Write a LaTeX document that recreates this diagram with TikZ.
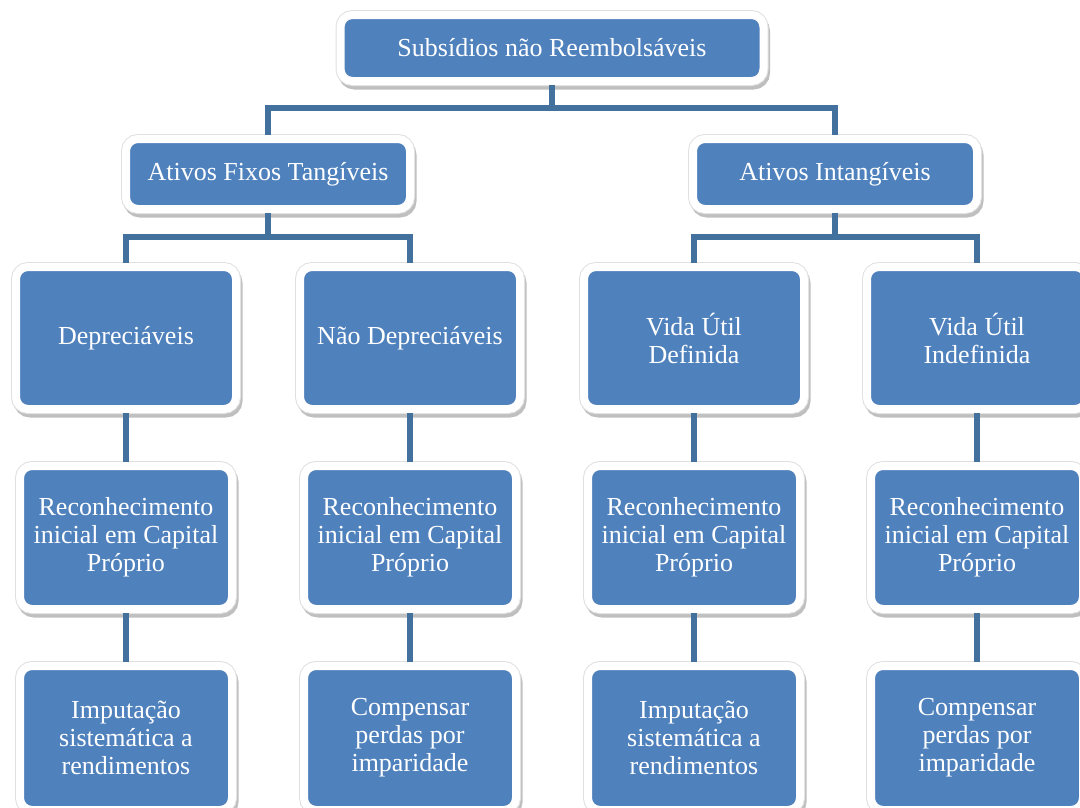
\documentclass[tikz,border=0pt]{standalone}
\usepackage{fontspec}
\setmainfont{Liberation Serif}
\usepackage{tikz}
\usetikzlibrary{positioning, shadows}

\definecolor{boxblue}{RGB}{79,129,189}
\definecolor{linkblue}{RGB}{65,113,156}

\tikzset{
  card/.style={draw=white, line width=8pt, fill=boxblue, rounded corners=12pt,
    text=white, align=center, inner sep=0pt,
    drop shadow={shadow xshift=2pt, shadow yshift=-4pt, opacity=.25, fill=black, draw=black, line width=9pt},
    preaction={draw=black!12, line width=10pt}},
  link/.style={draw=linkblue, line width=6pt}
}

\begin{document}
\begin{tikzpicture}[x=1pt, y=-1pt, node distance=49pt, font=\fontsize{26}{28}\selectfont]
  \useasboundingbox (0,0) rectangle (1080,807);

  % top
  \node (subsidios) [card, minimum width=423pt, minimum height=66pt] at (552,48)
    {Subsídios não Reembolsáveis};

  % second level
  \node (tangiveis) [card, minimum width=284pt, minimum height=70pt] at (268,174)
    {Ativos Fixos Tangíveis};
  \node (intangiveis) [card, minimum width=284pt, minimum height=70pt] at (835,174)
    {Ativos Intangíveis};

  % third level
  \node (depreciaveis) [card, minimum width=220pt, minimum height=142pt] at (126,338)
    {Depreciáveis};
  \node (naodepreciaveis) [card, minimum width=220pt, minimum height=142pt] at (410,338)
    {Não Depreciáveis};
  \node (vidadefinida) [card, minimum width=220pt, minimum height=142pt] at (694,338)
    {Vida Útil\\Definida};
  \node (vidaindefinida) [card, minimum width=220pt, minimum height=142pt] at (977,338)
    {Vida Útil\\Indefinida};

  % fourth level
  \node (reconhec_a) [card, minimum width=212pt, minimum height=143pt, below=of depreciaveis]
    {Reconhecimento\\inicial em Capital\\Próprio};
  \node (reconhec_b) [card, minimum width=212pt, minimum height=143pt, below=of naodepreciaveis]
    {Reconhecimento\\inicial em Capital\\Próprio};
  \node (reconhec_c) [card, minimum width=212pt, minimum height=143pt, below=of vidadefinida]
    {Reconhecimento\\inicial em Capital\\Próprio};
  \node (reconhec_d) [card, minimum width=212pt, minimum height=143pt, below=of vidaindefinida]
    {Reconhecimento\\inicial em Capital\\Próprio};

  % fifth level
  \node (imputacao_a) [card, minimum width=212pt, minimum height=144pt, below=of reconhec_a]
    {Imputação\\sistemática a\\rendimentos};
  \node (compensar_a) [card, minimum width=212pt, minimum height=144pt, below=of reconhec_b]
    {Compensar\\perdas por\\imparidade};
  \node (imputacao_b) [card, minimum width=212pt, minimum height=144pt, below=of reconhec_c]
    {Imputação\\sistemática a\\rendimentos};
  \node (compensar_b) [card, minimum width=212pt, minimum height=144pt, below=of reconhec_d]
    {Compensar\\perdas por\\imparidade};

  \coordinate (bus_top) at (552,108);
  \coordinate (bus_tang) at (268,237);
  \coordinate (bus_intang) at (835,237);

  \draw [link] (subsidios.south) -- (bus_top) -| (tangiveis.north);
  \draw [link] (bus_top) -| (intangiveis.north);
  \draw [link] (tangiveis.south) -- (bus_tang) -| (depreciaveis.north);
  \draw [link] (bus_tang) -| (naodepreciaveis.north);
  \draw [link] (intangiveis.south) -- (bus_intang) -| (vidadefinida.north);
  \draw [link] (bus_intang) -| (vidaindefinida.north);
  \draw [link] (depreciaveis) -- (reconhec_a);
  \draw [link] (naodepreciaveis) -- (reconhec_b);
  \draw [link] (vidadefinida) -- (reconhec_c);
  \draw [link] (vidaindefinida) -- (reconhec_d);
  \draw [link] (reconhec_a) -- (imputacao_a);
  \draw [link] (reconhec_b) -- (compensar_a);
  \draw [link] (reconhec_c) -- (imputacao_b);
  \draw [link] (reconhec_d) -- (compensar_b);
\end{tikzpicture}
\end{document}
